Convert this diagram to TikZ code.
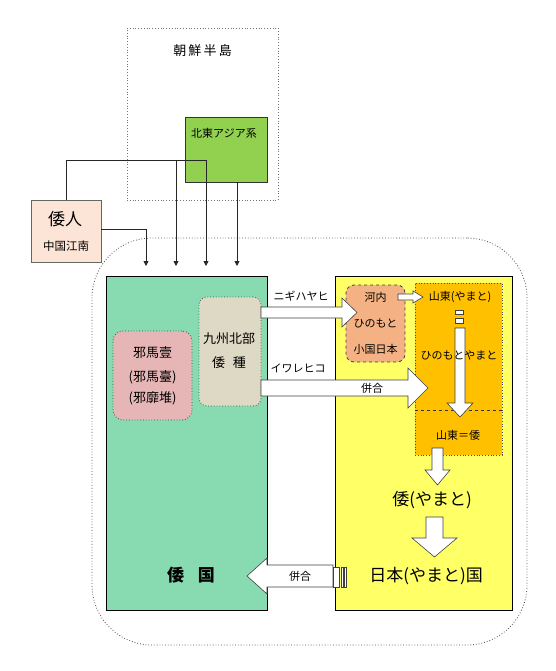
\documentclass[tikz,border=0pt]{standalone}
\usepackage{fontspec}
\newfontfamily\jp{Noto Sans CJK JP}
\usetikzlibrary{arrows.meta}
\definecolor{wagreen}{RGB}{136,218,176}
\definecolor{yamayel}{RGB}{255,255,102}
\definecolor{gold}{RGB}{255,192,0}
\definecolor{lime}{RGB}{146,208,80}
\definecolor{pinkb}{RGB}{230,182,182}
\definecolor{beige}{RGB}{221,217,196}
\definecolor{kawa}{RGB}{244,177,131}
\definecolor{wajinfill}{RGB}{252,228,214}
\tikzset{
  box/.style={draw=black, line width=0.7pt, inner sep=0pt, anchor=center},
  dotbox/.style={draw=black!70, dotted, line width=0.8pt, inner sep=0pt},
  lbl/.style={inner sep=0pt, font=\jp\fontsize{11}{12}\selectfont},
  mid/.style={inner sep=0pt, font=\jp\fontsize{13}{14}\selectfont},
  big/.style={inner sep=0pt, font=\jp\fontsize{17}{18}\selectfont},
  blk/.style={draw=black!75, fill=white, line width=0.6pt, line join=miter},
  conn/.style={draw=black!85, line width=0.8pt},
  connarr/.style={conn, -{Triangle[length=5pt,width=5pt]}}
}
\begin{document}
\begin{tikzpicture}[x=1pt,y=-1pt]
\useasboundingbox (0,0) rectangle (555,671);
% outer region
\node[dotbox, rounded corners=60pt, minimum width=435pt, minimum height=407pt] (outer) at (309.5,441.5) {};
% Korean peninsula
\node[dotbox, draw=black!55, minimum width=151pt, minimum height=172pt] (korea) at (202.5,114) {};
\node[mid] (koreat) at (202.5,51) {朝\,鮮\,半\,島};
% NE Asia
\node[box, fill=lime, draw=black!80, minimum width=82pt, minimum height=65pt] (ne) at (226,149.5) {};
\node[lbl] (net) at (224,133) {北東アジア系};
% Wajin
\node[box, fill=wajinfill, draw=black!60, minimum width=70pt, minimum height=62pt] (wajin) at (66,231) {};
\node[big] (wajint) at (65,219) {倭人};
\node[lbl, font=\jp\fontsize{11.5}{12}\selectfont] (wajins) at (66,246) {中国江南};
% connectors
\coordinate (j1) at (66,160);
\coordinate (j2) at (206,160);
\coordinate (j3) at (176,160);
\coordinate (j4) at (146,229);
\coordinate (e1) at (146,266);
\coordinate (e2) at (176,266);
\coordinate (e3) at (206,266);
\coordinate (e4) at (237,266);
\coordinate (n1) at (237,182);
\draw[conn] (wajin.north -| j1) -- (j1) -- (j2);
\draw[connarr] (j2) -- (e3);
\draw[connarr] (j3) -- (e2);
\draw[conn] (wajin.east |- j4) -- (j4);
\draw[connarr] (j4) -- (e1);
\draw[connarr] (n1) -- (e4);
% main boxes
\node[box, fill=wagreen, minimum width=161pt, minimum height=334pt] (wakoku) at (186.5,443) {};
\node[box, fill=yamayel, minimum width=177pt, minimum height=334pt] (yamato) at (423.5,443) {};
\node[big, font=\jp\bfseries\fontsize{17}{18}\selectfont] (wakokut) at (191,575) {倭\hspace{0.8em}国};
% pink
\node[dotbox, fill=pinkb, rounded corners=10pt, minimum width=79pt, minimum height=89pt] (yama) at (152.5,375.5) {};
\node[mid] (yama1) at (152.5,353) {邪馬壹};
\node[mid] (yama2) at (152.5,377) {(邪馬臺)};
\node[mid] (yama3) at (152.5,398) {(邪靡堆)};
% kyushu
\node[dotbox, fill=beige, rounded corners=8pt, minimum width=62pt, minimum height=109pt] (kyu) at (230,351.5) {};
\node[mid] (kyu1) at (229,339) {九州北部};
\node[mid] (kyu2) at (229,363) {倭\hspace{0.6em}種};
% gold
\node[dotbox, fill=gold, minimum width=87pt, minimum height=172pt] (gold) at (458.5,369) {};
\draw[black!80, dashed, line width=0.6pt] (gold.west |- 0,410) -- (gold.east |- 0,410);
\node[lbl] (g1) at (460,297) {山東(やまと)};
\node[lbl] (g3) at (458,435) {山東＝倭};
% kawachi
\node[draw=black!75, dashed, line width=0.8pt, fill=kawa, rounded corners=8pt, minimum width=59pt, minimum height=77pt, inner sep=0pt] (kawa) at (375.5,323.5) {};
\node[lbl] (k1) at (375.5,297) {河内};
\node[lbl] (k2) at (375.5,323) {ひのもと};
\node[lbl] (k3) at (375.5,349) {小国日本};
% block arrow: nigihayahi
\draw[blk] (261,307) -- (342,307) -- (342,298) -- (357,312.5) -- (342,327) -- (342,318) -- (261,318) -- cycle;
\node[lbl] (nigi) at (301,296) {ニギハヤヒ};
% block arrow: iwarehiko
\draw[blk] (261,380) -- (408,380) -- (408,368) -- (428,388) -- (408,408) -- (408,396) -- (261,396) -- cycle;
\node[lbl] (iware) at (298,368) {イワレヒコ};
\node[lbl] (heigo1) at (372,388) {併合};
% small arrow kawachi -> santo
\draw[blk] (398,294) -- (413,294) -- (413,291) -- (423,297) -- (413,303) -- (413,300) -- (398,300) -- cycle;
% striped down arrow in gold
\draw[blk] (455,310) rectangle (463,314);
\draw[blk] (455,318) rectangle (463,323);
\draw[blk] (455,328) -- (465,328) -- (465,403) -- (473,403) -- (460,417) -- (447,403) -- (455,403) -- cycle;
\node[lbl] (g2) at (459,355) {ひのもとやまと};
% down arrow gold -> wa(yamato)
\draw[blk] (432,448) -- (443,448) -- (443,470) -- (450,470) -- (437.5,485) -- (425,470) -- (432,470) -- cycle;
\node[big] (way) at (432,500) {倭(やまと)};
% down arrow 2
\draw[blk] (426,517) -- (443,517) -- (443,538) -- (457,538) -- (434.5,557) -- (412,538) -- (426,538) -- cycle;
\node[big] (nihon) at (426,576) {日本(やまと)国};
% bottom left arrow
\draw[blk] (333,565) -- (267,565) -- (267,558) -- (247,576) -- (267,594) -- (267,587) -- (333,587) -- cycle;
\draw[blk] (333,567) rectangle (339,587);
\draw[blk] (341,567) rectangle (343,587);
\draw[blk] (344.5,567) rectangle (346.5,587);
\node[lbl] (heigo2) at (300,576) {併合};
\end{tikzpicture}
\end{document}
